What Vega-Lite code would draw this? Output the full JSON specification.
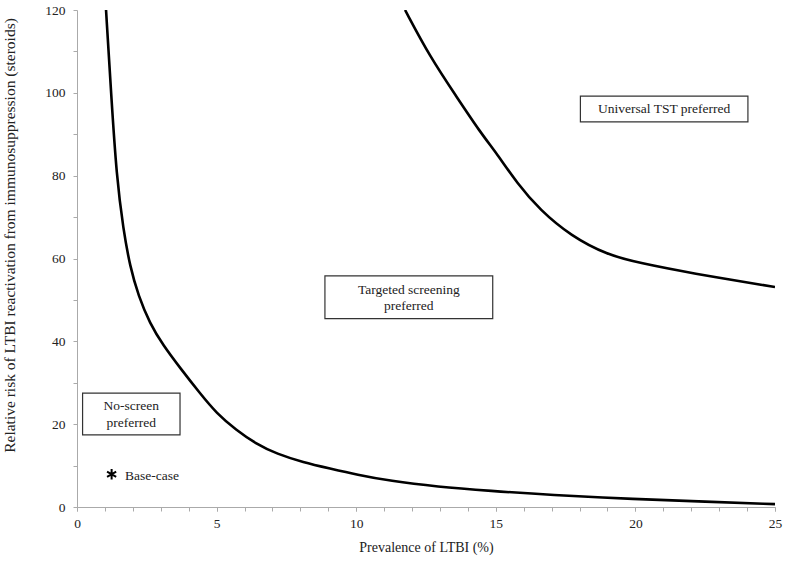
{
  "$schema": "https://vega.github.io/schema/vega-lite/v6.json",
  "autosize": "none",
  "padding": {"left": 77, "top": 10, "right": 10, "bottom": 57},
  "width": 698,
  "height": 497,
  "background": "white",
  "config": {
    "view": {"stroke": null},
    "font": "Liberation Serif",
    "text": {"font": "Liberation Serif"},
    "axis": {
      "grid": false,
      "domainColor": "#aaaaaa",
      "tickColor": "#aaaaaa",
      "labelColor": "#222222",
      "titleColor": "#222222",
      "labelFont": "Liberation Serif",
      "titleFont": "Liberation Serif",
      "labelFontSize": 13.5,
      "titleFontSize": 14,
      "titleFontWeight": "normal"
    }
  },
  "resolve": {"axis": {"x": "independent"}},
  "datasets": {
    "curves": [
      {"curve": "lower", "x": 1.04, "y": 120},
      {"curve": "lower", "x": 1.22, "y": 100},
      {"curve": "lower", "x": 1.42, "y": 79.5},
      {"curve": "lower", "x": 1.66, "y": 67},
      {"curve": "lower", "x": 1.9, "y": 58},
      {"curve": "lower", "x": 2.2, "y": 51},
      {"curve": "lower", "x": 2.61, "y": 44.3},
      {"curve": "lower", "x": 3.09, "y": 39},
      {"curve": "lower", "x": 3.69, "y": 33.6},
      {"curve": "lower", "x": 4.41, "y": 27.4},
      {"curve": "lower", "x": 5.0, "y": 22.6},
      {"curve": "lower", "x": 5.7, "y": 18.6},
      {"curve": "lower", "x": 6.4, "y": 15.3},
      {"curve": "lower", "x": 7.16, "y": 12.8},
      {"curve": "lower", "x": 8.1, "y": 10.8},
      {"curve": "lower", "x": 9.06, "y": 9.3},
      {"curve": "lower", "x": 10.03, "y": 7.8},
      {"curve": "lower", "x": 11.2, "y": 6.3},
      {"curve": "lower", "x": 12.9, "y": 4.9},
      {"curve": "lower", "x": 14.8, "y": 3.9},
      {"curve": "lower", "x": 16.94, "y": 2.9},
      {"curve": "lower", "x": 20, "y": 1.9},
      {"curve": "lower", "x": 22.5, "y": 1.3},
      {"curve": "lower", "x": 25, "y": 0.7},
      {"curve": "upper", "x": 11.75, "y": 120},
      {"curve": "upper", "x": 12.64, "y": 108.7},
      {"curve": "upper", "x": 13.6, "y": 99},
      {"curve": "upper", "x": 14.43, "y": 90.6},
      {"curve": "upper", "x": 15.04, "y": 85.3},
      {"curve": "upper", "x": 15.76, "y": 78.2},
      {"curve": "upper", "x": 16.58, "y": 71.7},
      {"curve": "upper", "x": 17.7, "y": 65.4},
      {"curve": "upper", "x": 18.98, "y": 60.9},
      {"curve": "upper", "x": 20.16, "y": 58.9},
      {"curve": "upper", "x": 21.96, "y": 56.5},
      {"curve": "upper", "x": 25, "y": 53.1}
    ],
    "boxes": [
      {"label": "Universal TST preferred", "x1": 18.03, "x2": 24.03, "y1": 93.0, "y2": 99.2, "xc": 21.03, "yc": 96.1},
      {"label": "Targeted screening\npreferred", "x1": 8.88, "x2": 14.89, "y1": 45.5, "y2": 55.8, "xc": 11.885, "yc": 52.5},
      {"label": "No-screen\npreferred", "x1": 0.2, "x2": 3.69, "y1": 17.4, "y2": 27.5, "xc": 1.945, "yc": 24.3}
    ],
    "base": [
      {"label": "Base-case", "x": 1.24, "y": 7.9, "tx": 1.72, "ty": 7.5}
    ]
  },
  "encoding": {},
  "layer": [
    {
      "data": {"name": "curves"},
      "mark": {"type": "line", "strokeOpacity": 0, "interpolate": "linear"},
      "encoding": {
        "x": {
          "field": "x", "type": "quantitative",
          "scale": {"domain": [0, 25], "nice": false, "zero": false},
          "axis": {
            "orient": "bottom",
            "offset": 0,
            "title": null,
            "values": [0,1,2,3,4,5,6,7,8,9,10,11,12,13,14,15,16,17,18,19,20,21,22,23,24,25],
            "labels": false,
            "domain": false,
            "tickSize": 4
          }
        },
        "y": {"field": "y", "type": "quantitative", "scale": {"domain": [0, 120], "nice": false}},
        "detail": {"field": "curve"}
      }
    },
    {
      "data": {"name": "curves"},
      "mark": {"type": "line", "color": "black", "strokeWidth": 2.6, "interpolate": "basis", "clip": true},
      "encoding": {
        "x": {
          "field": "x", "type": "quantitative",
          "scale": {"domain": [0, 25], "nice": false, "zero": false},
          "axis": {
            "orient": "bottom",
            "offset": 0,
            "title": "Prevalence of LTBI (%)",
            "values": [0,5,10,15,20,25],
            "labelFlush": false,
            "tickSize": 4,
            "labelPadding": 5,
            "titleY": 40,
            "titleBaseline": "middle"
          }
        },
        "y": {
          "field": "y", "type": "quantitative",
          "scale": {"domain": [0, 120], "nice": false},
          "axis": {
            "title": "Relative risk of LTBI reactivation from immunosuppression (steroids)",
            "values": [0,5,10,15,20,25,30,35,40,45,50,55,60,65,70,75,80,85,90,95,100,105,110,115,120],
            "labelExpr": "datum.value % 20 === 0 ? datum.label : ''",
            "labelFlush": false,
            "tickSize": 4,
            "labelPadding": 8,
            "titleFontSize": 15.5,
            "titleX": -68,
            "titleY": 225,
            "titleBaseline": "middle",
            "titleAlign": "center"
          }
        },
        "detail": {"field": "curve"}
      }
    },
    {
      "data": {"name": "boxes"},
      "mark": {"type": "rect", "fill": "white", "stroke": "#333333", "strokeWidth": 1.2},
      "encoding": {
        "x": {"field": "x1", "type": "quantitative", "axis": null},
        "x2": {"field": "x2"},
        "y": {"field": "y1", "type": "quantitative"},
        "y2": {"field": "y2"}
      }
    },
    {
      "data": {"name": "boxes"},
      "mark": {"type": "text", "fontSize": 13.5, "lineBreak": "\n", "lineHeight": 16.5, "color": "#222222", "baseline": "middle", "align": "center"},
      "encoding": {
        "x": {"field": "xc", "type": "quantitative", "axis": null},
        "y": {"field": "yc", "type": "quantitative"},
        "text": {"field": "label"}
      }
    },
    {
      "data": {"name": "base"},
      "mark": {"type": "point", "shape": "M0,-1L0,1M-0.87,-0.5L0.87,0.5M-0.87,0.5L0.87,-0.5", "filled": false, "stroke": "black", "strokeWidth": 2, "size": 110, "opacity": 1},
      "encoding": {
        "x": {"field": "x", "type": "quantitative", "axis": null},
        "y": {"field": "y", "type": "quantitative"}
      }
    },
    {
      "data": {"name": "base"},
      "mark": {"type": "text", "fontSize": 13.5, "align": "left", "baseline": "middle", "color": "#222222"},
      "encoding": {
        "x": {"field": "tx", "type": "quantitative", "axis": null},
        "y": {"field": "ty", "type": "quantitative"},
        "text": {"field": "label"}
      }
    }
  ]
}
